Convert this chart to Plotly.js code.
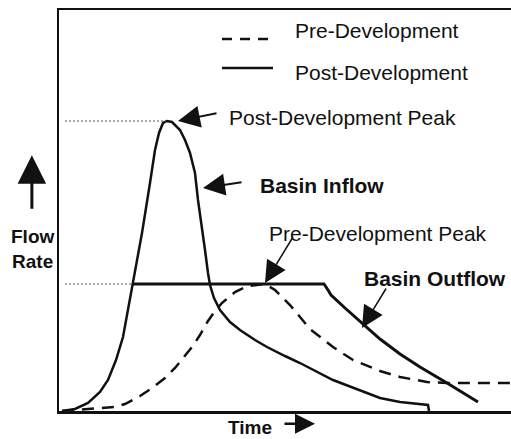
<!DOCTYPE html>
<html>
<head>
<meta charset="utf-8">
<script src="https://cdn.plot.ly/plotly-3.0.1.min.js"></script>
<style>
  body { margin: 0; background: #fff; }
  #hydro { width: 511px; height: 439px; }
</style>
</head>
<body>
<div id="hydro"></div>
<script>
// hydrograph values, time and flow in arbitrary units
var preTime  = [0.3, 2.9, 5.6, 6.6, 8.1, 9.3, 10.6, 11.6, 12.6, 13.3, 14.1, 14.9, 15.6, 16.3, 17.6, 18.9, 20.6, 21.6, 23.1, 25.1, 27.4, 29.4, 32.1, 34.1, 36.8, 38.8, 45.2];
var preFlow  = [0, 0.2, 0.4, 0.7, 1.5, 2.3, 3.3, 4.3, 5.5, 6.4, 7.6, 9.0, 10.0, 10.8, 11.9, 12.5, 12.7, 12.1, 10.6, 8.2, 6.4, 5.1, 4.0, 3.4, 2.9, 2.8, 2.8];

var inTime = [0.3, 1.6, 2.9, 4.1, 4.9, 5.7, 6.4, 7.0, 7.4, 8.3, 9.1, 9.6, 10.0, 10.4, 10.8, 11.3, 12.1, 12.6, 13.1, 13.6, 13.9, 14.3, 14.6, 14.9, 15.1, 15.5, 16.1, 17.1, 18.1, 19.6, 20.8, 22.6, 24.1, 27.4, 30.8, 32.1, 34.1, 36.4, 36.9, 37.0];
var inFlow = [0, 0.2, 0.8, 1.9, 3.1, 5.1, 7.4, 10.6, 12.6, 17.8, 22.8, 26.1, 27.8, 28.8, 29.0, 28.9, 28.1, 27.1, 25.8, 23.8, 21.1, 18.4, 16.1, 13.8, 12.6, 11.3, 10.1, 8.9, 8.1, 7.1, 6.4, 5.5, 4.8, 3.1, 1.8, 1.3, 0.9, 0.7, 0.6, 0];

var outTime = [7.4, 26.5, 26.9, 27.2, 28.6, 30.4, 32.1, 34.1, 36.1, 38.8, 40.6, 41.9];
var outFlow = [12.7, 12.7, 12.1, 11.6, 10.3, 8.7, 7.2, 5.7, 4.4, 2.8, 1.7, 0.9];

var postPeakTime = 10.7, postPeakFlow = 29.0;
var prePeakTime = 7.4, prePeakFlow = 12.7;

var ink = "#111";
var font = "Liberation Sans, Arial, sans-serif";

var data = [
  { x: preTime, y: preFlow, mode: "lines", line: { color: ink, width: 2.5, dash: "12px,8px" }, hoverinfo: "skip" },
  { x: inTime, y: inFlow, mode: "lines", line: { color: ink, width: 2.5 }, hoverinfo: "skip" },
  { x: outTime, y: outFlow, mode: "lines", line: { color: ink, width: 3 }, hoverinfo: "skip" },
  // dotted guides to the peaks
  { x: [0.6, postPeakTime], y: [postPeakFlow, postPeakFlow], mode: "lines", line: { color: "#555", width: 1, dash: "2px,2px" }, hoverinfo: "skip" },
  { x: [0.6, prePeakTime], y: [prePeakFlow, prePeakFlow], mode: "lines", line: { color: "#555", width: 1, dash: "2px,2px" }, hoverinfo: "skip" }
];

function label(txt, x, y, opts) {
  return Object.assign({ text: txt, x: x, y: y, xref: "x", yref: "y", showarrow: false,
    xanchor: "left", yanchor: "middle", font: { family: font, size: 21, color: ink } }, opts || {});
}
function arrow(x0, y0, x1, y1, w, s) {
  return { text: "", x: x1, y: y1, ax: x0, ay: y0, xref: "x", yref: "y", axref: "x", ayref: "y",
    showarrow: true, arrowhead: 2, arrowsize: s || 2.2, arrowwidth: w || 2, arrowcolor: ink };
}

var annotations = [
  label("Pre-Development", 23.4, 38.1),
  label("Post-Development", 23.4, 33.9),
  label("Post-Development Peak", 16.8, 29.4),
  label("<b>Basin Inflow</b>", 19.9, 22.6),
  label("Pre-Development Peak", 20.8, 17.8),
  label("<b>Basin Outflow</b>", 30.3, 13.3),
  arrow(15.9, 29.8, 11.9, 29.0),
  arrow(18.4, 22.9, 14.4, 22.3),
  arrow(23.4, 17.4, 20.6, 12.8, 1.5, 2.9),
  arrow(32.8, 12.4, 30.3, 8.3, 1.5, 2.9),
  // axis captions sit outside the plot area, so they go in paper coords
  { text: "<b>Flow</b><br><b>Rate</b>", x: -0.111, y: 0.405, xref: "paper", yref: "paper", showarrow: false,
    xanchor: "left", yanchor: "middle", font: { family: font, size: 19, color: ink } },
  { text: "", x: -0.06, y: 0.638, xref: "paper", yref: "paper", ax: 0, ay: 55,
    showarrow: true, arrowhead: 2, arrowsize: 1.9, arrowwidth: 3, arrowcolor: ink },
  { text: "<b>Time</b>", x: 19.1, y: -0.04, xref: "x", yref: "paper", showarrow: false,
    xanchor: "center", yanchor: "middle", font: { family: font, size: 19, color: ink } },
  { text: "", x: 25.6, y: -0.032, xref: "x", yref: "paper", ax: -32, ay: 0,
    showarrow: true, arrowhead: 2, arrowsize: 1.6, arrowwidth: 2.5, arrowcolor: ink }
];

// legend samples
var shapes = [
  { type: "line", xref: "x", yref: "y", x0: 16.3, x1: 21.4, y0: 37.2, y1: 37.2, line: { color: ink, width: 2.5, dash: "10px,8px" } },
  { type: "line", xref: "x", yref: "y", x0: 16.3, x1: 21.4, y0: 34.3, y1: 34.3, line: { color: ink, width: 2.5 } }
];

var layout = {
  width: 511, height: 439,
  margin: { l: 59, r: 0, t: 10, b: 28 },
  paper_bgcolor: "#fff", plot_bgcolor: "#fff",
  showlegend: false,
  xaxis: { range: [0, 45.2], showline: true, linecolor: ink, linewidth: 2.5, mirror: true,
           showgrid: false, zeroline: false, showticklabels: false, ticks: "" },
  yaxis: { range: [0, 40.1], showline: true, linecolor: ink, linewidth: 2.5,
           showgrid: false, zeroline: false, showticklabels: false, ticks: "" },
  annotations: annotations,
  shapes: shapes
};

Plotly.newPlot("hydro", data, layout, { staticPlot: true });
</script>
</body>
</html>
